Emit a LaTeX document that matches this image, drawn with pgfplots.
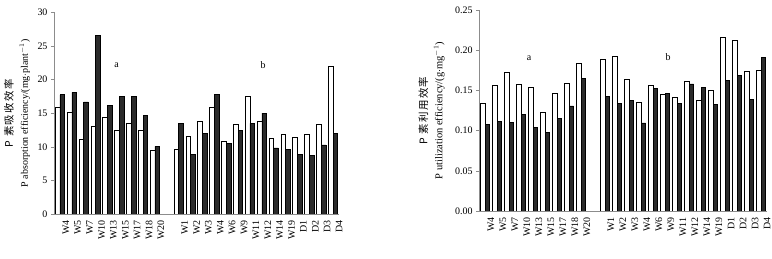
\documentclass[border=0pt]{standalone}
\usepackage{pgfplots}
\pgfplotsset{compat=1.18}
\usepackage{fontspec}
\setmainfont{Liberation Serif}
\newfontfamily\cjk[LetterSpace=12]{Noto Sans CJK SC}
\definecolor{axgray}{HTML}{8C8C8C}
\definecolor{barblack}{HTML}{2B2B2B}
\pgfplotsset{
  myaxis/.style={
    scale only axis,
    axis x line=bottom, axis y line=left,
    axis line style={draw=axgray, line width=0.9pt, -},
    xmin=-0.5, xmax=23.5,
    ymin=0,
    ybar=0pt, bar width=4.7bp,
    xtick={0,1,2,3,4,5,6,7,8,10,11,12,13,14,15,16,17,18,19,20,21,22,23},
    xticklabels={W4,W5,W7,W10,W13,W15,W17,W18,W20,W1,W2,W3,W4,W6,W9,W11,W12,W14,W19,D1,D2,D3,D4},
    x tick label style={rotate=90, anchor=east, font=\fontsize{10}{11}\selectfont, yshift=-6bp},
    xtick style={draw=none},
    y tick label style={font=\fontsize{10}{11}\selectfont},
    ytick style={draw=axgray, line width=0.6pt},
    tick align=outside, major tick length=3bp,
    /pgf/number format/assume math mode=true,
    ylabel style={align=center, rotate=0, anchor=center},
  },
  whitebar/.style={fill=white, draw=black, line width=0.6pt},
  blackbar/.style={fill=barblack, draw=black, line width=0.6pt},
}
\begin{document}
\begin{tikzpicture}
\useasboundingbox (0,0) rectangle (772bp,259bp);
% Left panel
\begin{axis}[myaxis,
  at={(54bp,45bp)}, anchor=south west,
  width=285bp, height=201.5bp,
  ymax=30, ytick={0,5,10,15,20,25,30},
  ylabel style={at={(axis description cs:-0.13,0.5)}},
  ylabel={{\cjk\fontsize{10.5}{12}\selectfont P 素吸收效率}\\[3bp]{\fontsize{10}{11}\selectfont P absorption efficiency/(mg$\cdot$plant$^{-1}$)}},
]
\addplot[whitebar] coordinates {(0,15.9)(1,15.15)(2,11.1)(3,13.0)(4,14.35)(5,12.45)(6,13.45)(7,12.45)(8,9.5)(10,9.65)(11,11.5)(12,13.8)(13,15.9)(14,10.8)(15,13.35)(16,17.55)(17,13.8)(18,11.25)(19,11.8)(20,11.4)(21,11.9)(22,13.35)(23,21.95)};
\addplot[blackbar] coordinates {(0,17.75)(1,18.1)(2,16.7)(3,26.6)(4,16.15)(5,17.5)(6,17.5)(7,14.7)(8,10.05)(10,13.45)(11,8.85)(12,11.95)(13,17.85)(14,10.5)(15,12.45)(16,13.5)(17,15.0)(18,9.85)(19,9.6)(20,8.85)(21,8.7)(22,10.3)(23,12.0)};
\node[font=\fontsize{10}{11}\selectfont] at (axis cs:4.77,22.2) {a};
\node[font=\fontsize{10}{11}\selectfont] at (axis cs:17.1,22.2) {b};
\end{axis}
% Right panel
\begin{axis}[myaxis,
  at={(479bp,48bp)}, anchor=south west,
  width=288bp, height=201bp,
  ymax=0.25, ytick={0,0.05,0.10,0.15,0.20,0.25},
  yticklabel style={/pgf/number format/.cd, fixed, fixed zerofill, precision=2},
  ylabel style={at={(axis description cs:-0.165,0.5)}},
  ylabel={{\cjk\fontsize{10.5}{12}\selectfont P 素利用效率}\\[3bp]{\fontsize{10.5}{11}\selectfont P utilization efficiency/(g$\cdot$mg$^{-1}$)}},
]
\addplot[whitebar] coordinates {(0,0.1335)(1,0.156)(2,0.172)(3,0.157)(4,0.154)(5,0.123)(6,0.146)(7,0.159)(8,0.1837)(10,0.189)(11,0.192)(12,0.1638)(13,0.135)(14,0.156)(15,0.145)(16,0.1414)(17,0.161)(18,0.138)(19,0.1505)(20,0.2164)(21,0.212)(22,0.1737)(23,0.175)};
\addplot[blackbar] coordinates {(0,0.108)(1,0.1115)(2,0.110)(3,0.120)(4,0.1037)(5,0.098)(6,0.115)(7,0.1306)(8,0.165)(10,0.1426)(11,0.134)(12,0.1376)(13,0.1095)(14,0.1526)(15,0.146)(16,0.1335)(17,0.158)(18,0.154)(19,0.1327)(20,0.162)(21,0.169)(22,0.139)(23,0.191)};
\node[font=\fontsize{10}{11}\selectfont] at (axis cs:3.67,0.19) {a};
\node[font=\fontsize{10}{11}\selectfont] at (axis cs:15.25,0.191) {b};
\end{axis}
\end{tikzpicture}
\end{document}
